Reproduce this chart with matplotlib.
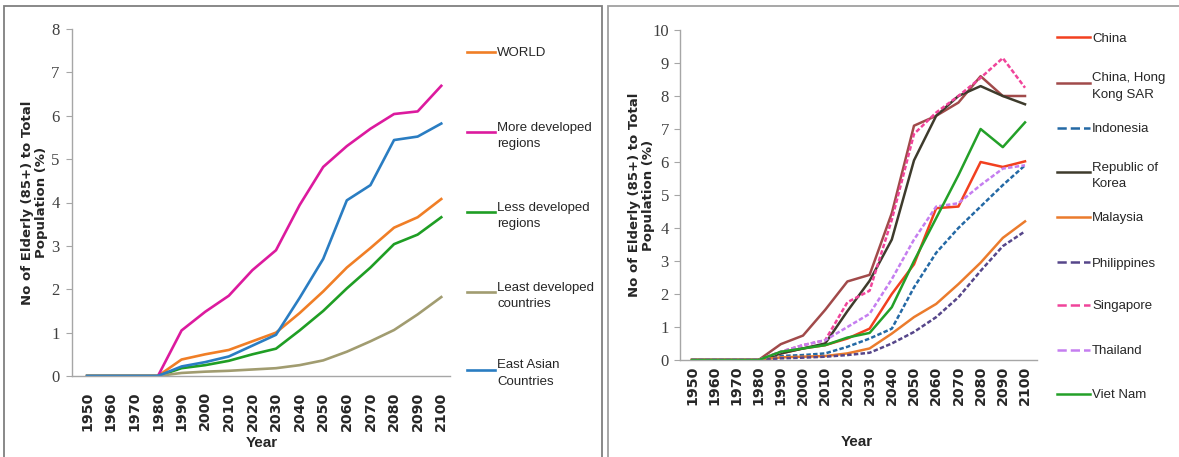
import matplotlib
matplotlib.use("Agg")
import matplotlib.pyplot as plt
from matplotlib.lines import Line2D
from matplotlib.patches import Rectangle

# ------------------------------------------------------------
# data
# ------------------------------------------------------------
years = [1950, 1960, 1970, 1980, 1990, 2000, 2010, 2020,
         2030, 2040, 2050, 2060, 2070, 2080, 2090, 2100]

# left panel: regions
world = [0, 0, 0, 0, 0.38, 0.50, 0.60, 0.80, 1.00, 1.45, 1.95, 2.50, 2.95, 3.42, 3.66, 4.08]
more_dev = [0, 0, 0, 0, 1.05, 1.48, 1.85, 2.44, 2.90, 3.94, 4.82, 5.30, 5.70, 6.04, 6.10, 6.69]
less_dev = [0, 0, 0, 0, 0.18, 0.25, 0.35, 0.50, 0.63, 1.05, 1.50, 2.02, 2.50, 3.04, 3.26, 3.66]
least_dev = [0, 0, 0, 0, 0.07, 0.10, 0.12, 0.15, 0.18, 0.25, 0.36, 0.56, 0.80, 1.06, 1.42, 1.82]
east_asia = [0, 0, 0, 0, 0.22, 0.32, 0.45, 0.70, 0.95, 1.80, 2.70, 4.05, 4.40, 5.44, 5.52, 5.82]

left_labels = ['WORLD', 'More developed\nregions', 'Less developed\nregions',
               'Least developed\ncountries', 'East Asian\nCountries']

# right panel: countries
china = [0, 0, 0, 0, 0.20, 0.35, 0.45, 0.65, 0.95, 2.00, 2.90, 4.60, 4.65, 6.00, 5.85, 6.02]
hong_kong = [0, 0, 0, 0, 0.48, 0.74, 1.52, 2.38, 2.58, 4.45, 7.10, 7.40, 7.80, 8.60, 8.00, 8.00]
indonesia = [0, 0, 0, 0, 0.12, 0.15, 0.20, 0.40, 0.65, 0.95, 2.20, 3.25, 4.00, 4.65, 5.30, 5.90]
korea = [0, 0, 0, 0, 0.20, 0.35, 0.50, 1.48, 2.40, 3.65, 6.05, 7.40, 8.00, 8.30, 8.00, 7.75]
malaysia = [0, 0, 0, 0, 0.08, 0.10, 0.12, 0.20, 0.35, 0.80, 1.30, 1.70, 2.30, 2.95, 3.70, 4.20]
philippines = [0, 0, 0, 0, 0.05, 0.07, 0.10, 0.15, 0.22, 0.50, 0.85, 1.30, 1.90, 2.70, 3.45, 3.90]
singapore = [0, 0, 0, 0, 0.25, 0.45, 0.60, 1.75, 2.10, 4.25, 6.85, 7.50, 8.00, 8.55, 9.15, 8.25]
thailand = [0, 0, 0, 0, 0.25, 0.45, 0.60, 1.00, 1.40, 2.45, 3.65, 4.65, 4.75, 5.30, 5.80, 5.90]
viet_nam = [0, 0, 0, 0, 0.25, 0.35, 0.45, 0.68, 0.82, 1.60, 3.00, 4.30, 5.60, 7.00, 6.45, 7.20]

right_labels = ['China', 'China, Hong\nKong SAR', 'Indonesia', 'Republic of\nKorea',
                'Malaysia', 'Philippines', 'Singapore', 'Thailand', 'Viet Nam']

# ------------------------------------------------------------
# styles
# ------------------------------------------------------------
W, H = 1179, 457
DASH = (0, (1.8, 0.9))
left_styles = [('#F07E26', '-'), ('#DC1A9E', '-'), ('#1F9E24', '-'),
               ('#A19C70', '-'), ('#2A7DC2', '-')]
right_styles = [('#F2401F', '-'), ('#A14A4A', '-'), ('#2469A5', DASH),
                ('#3E3B2C', '-'), ('#EB7B2C', '-'), ('#56468A', DASH),
                ('#F0449A', DASH), ('#C57EF0', DASH), ('#23A028', '-')]

tick_font = {'family': ['Liberation Serif', 'DejaVu Serif'], 'size': 12, 'color': '#404040'}
leg_font = ['Liberation Sans', 'DejaVu Sans']
axis_gray = '#A6A6A6'


def fx(px):
    return px / W


def fy(py):
    return 1 - py / H


def style_axes(ax, ymax, xlim, ylabel_x, year_xy, xpad):
    ax.set_xlim(*xlim)
    ax.set_ylim(0, ymax)
    for s in ['top', 'right']:
        ax.spines[s].set_visible(False)
    for s in ['left', 'bottom']:
        ax.spines[s].set_color(axis_gray)
        ax.spines[s].set_linewidth(1.0)
    ax.set_yticks(range(0, ymax + 1))
    ax.set_yticklabels([str(v) for v in range(0, ymax + 1)], fontdict=tick_font)
    ax.tick_params(axis='y', length=4, color=axis_gray, pad=5)
    ax.set_xticks(years)
    ax.set_xticklabels([str(y) for y in years], rotation=90, fontsize=10.3,
                       fontweight='bold', color='#262626', va='top')
    ax.tick_params(axis='x', length=0, pad=xpad)
    ax.set_ylabel('No of Elderly (85+) to Total\nPopulation (%)', fontsize=9.5,
                  fontweight='bold', color='#262626', linespacing=1.1)
    ax.yaxis.set_label_coords(ylabel_x, 0.5)
    ax.yaxis.label.set_va('center')
    ax.set_xlabel('Year', fontsize=11, fontweight='bold', color='#262626',
                  family=leg_font)
    ax.xaxis.set_label_coords(*year_xy)
    ax.xaxis.label.set_va('center')


def legend_entry(fig, line, label, x0, x1, xt, y, spacing):
    fig.add_artist(Line2D([fx(x0), fx(x1)], [fy(y), fy(y)], color=line.get_color(),
                          linestyle=line.get_linestyle(), linewidth=line.get_linewidth()))
    fig.text(fx(xt), fy(y), label, family=leg_font, fontsize=9.5, color='#262626',
             va='center_baseline', ha='left', linespacing=spacing)


fig = plt.figure(figsize=(W / 100, H / 100), dpi=100)

# panel frames
fig.add_artist(Rectangle((fx(4), -0.05), fx(598), fy(6) + 0.05, fill=False,
                         edgecolor='#7F7F7F', linewidth=1.3, transform=fig.transFigure))
fig.add_artist(Rectangle((fx(608), -0.05), fx(600), fy(6) + 0.05, fill=False,
                         edgecolor='#A0A0A0', linewidth=1.3, transform=fig.transFigure))

# ---------------- left panel ----------------
ax1 = fig.add_axes([fx(72), fy(376), fx(450 - 72), (376 - 29) / H])
left_series = [world, more_dev, less_dev, least_dev, east_asia]
left_lines = []
for vals, (c, ls) in zip(left_series, left_styles):
    ln, = ax1.plot(years, vals, color=c, linestyle=ls, linewidth=1.9)
    left_lines.append(ln)
style_axes(ax1, 8, (1943.6, 2103.7), -0.10, (0.503, -0.193), 11)

left_y = [52, 132, 212, 292, 370]
for ln, lab, y in zip(left_lines, left_labels, left_y):
    legend_entry(fig, ln, lab, 467, 495, 497, y, 1.45)

# ---------------- right panel ----------------
ax2 = fig.add_axes([fx(680), fy(360), fx(1037 - 680), (360 - 30) / H])
right_series = [china, hong_kong, indonesia, korea, malaysia,
                philippines, singapore, thailand, viet_nam]
right_lines = []
for vals, (c, ls) in zip(right_series, right_styles):
    ln, = ax2.plot(years, vals, color=c, linestyle=ls, linewidth=1.8)
    right_lines.append(ln)
style_axes(ax2, 10, (1944.6, 2105.4), -0.109, (0.496, -0.248), 4)
ax2.tick_params(axis='y', pad=4)

right_y = [37, 83, 128, 172, 217, 262, 305, 350, 394]
for ln, lab, y in zip(right_lines, right_labels, right_y):
    legend_entry(fig, ln, lab, 1057, 1090, 1092, y, 1.55)

fig.savefig('out.png', dpi=100)
